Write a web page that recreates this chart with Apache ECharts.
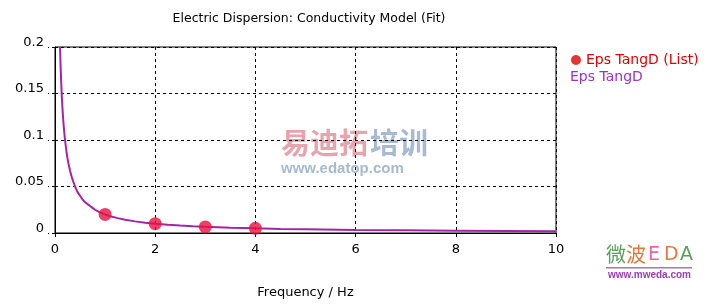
<!DOCTYPE html>
<html><head><meta charset="utf-8">
<script src="https://cdn.jsdelivr.net/npm/echarts@6/dist/echarts.min.js"></script>
<style>html,body{margin:0;padding:0;background:#fff}#c{width:714px;height:304px}</style>
</head><body><div id="c"></div>
<script>
const titleText = 'Electric Dispersion: Conductivity Model (Fit)';
const xAxisName = 'Frequency / Hz';
const listName = 'Eps TangD (List)';
const fitName = 'Eps TangD';
const listFreq = [1, 2, 3, 4];
const listVals = [0.0200, 0.0100, 0.0065, 0.0050];
const fitFreq = [0.1, 0.11, 0.12, 0.135, 0.15, 0.165, 0.18, 0.2, 0.225, 0.25, 0.275, 0.3, 0.33, 0.36, 0.4, 0.45, 0.5, 0.55, 0.6, 0.65, 0.7, 0.75, 0.8, 0.9, 1.0, 1.1, 1.25, 1.4, 1.6, 1.8, 2, 2.25, 2.5, 2.75, 3, 3.5, 4, 4.5, 5, 6, 7, 8, 9, 10];
const fitVals = [0.200, 0.182, 0.167, 0.148, 0.133, 0.121, 0.111, 0.100, 0.089, 0.080, 0.073, 0.067, 0.061, 0.056, 0.050, 0.044, 0.040, 0.036, 0.033, 0.031, 0.029, 0.027, 0.025, 0.022, 0.020, 0.018, 0.016, 0.0143, 0.0125, 0.0111, 0.0100, 0.0089, 0.0080, 0.0073, 0.0067, 0.0057, 0.0050, 0.0044, 0.0040, 0.0033, 0.0029, 0.0025, 0.0022, 0.0020];
const yTicks = [0, 0.05, 0.1, 0.15, 0.2];

const font = '"DejaVu Sans", Verdana, sans-serif';
const chart = echarts.init(document.getElementById('c'));
chart.setOption({
  animation: false,
  backgroundColor: '#fff',
  title: { text: titleText, left: 304, top: 7, textAlign: 'center',
    textStyle: { fontFamily: font, fontSize: 12.5, fontWeight: 'normal', color: '#000' } },
  grid: { left: 55, right: 158, top: 47, bottom: 70, show: true, borderColor: '#000', borderWidth: 1, backgroundColor: 'transparent' },
  legend: [
    { left: 566, top: 48, orient: 'vertical', itemWidth: 10, itemHeight: 10,
      data: [{ name: listName, icon: 'circle', itemStyle: { color: '#e00000' } }],
      textStyle: { fontFamily: font, fontSize: 14, color: '#e00000' }, selectedMode: false },
    { left: 560, top: 65, orient: 'vertical', itemWidth: 0, itemHeight: 0,
      data: [{ name: fitName, icon: 'none' }],
      textStyle: { fontFamily: font, fontSize: 14, color: '#9933cc' }, selectedMode: false }
  ],
  xAxis: {
    type: 'value', min: 0, max: 10, interval: 2,
    name: xAxisName, nameLocation: 'middle', nameGap: 53,
    nameTextStyle: { fontFamily: font, fontSize: 13, color: '#000' },
    axisLine: { lineStyle: { color: '#000', width: 1 } },
    axisTick: { show: true, length: 4, lineStyle: { color: '#000' } },
    axisLabel: { fontFamily: font, fontSize: 13, color: '#000', margin: 10 },
    splitLine: { show: true, lineStyle: { color: '#000', type: [3, 3], width: 1 } }
  },
  yAxis: {
    type: 'value', min: 0, max: 0.2, interval: 0.05,
    axisLine: { show: true, lineStyle: { color: '#000', width: 1 } },
    axisTick: { show: true, length: 7, lineStyle: { color: '#000', type: [3, 3] } },
    axisLabel: { fontFamily: font, fontSize: 13, color: '#000', margin: 11, verticalAlign: 'bottom', lineHeight: 9,
      formatter: v => yTicks.includes(+v.toFixed(2)) ? String(+v.toFixed(2)) : '' },
    splitLine: { show: true, lineStyle: { color: '#000', type: [3, 3], width: 1 } }
  },
  graphic: [
    { type: 'text', left: 281, top: 128, z: 0, style: { text: '易迪拓', font: 'bold 29px "Noto Sans CJK SC"', fill: '#e8a4ae' } },
    { type: 'text', left: 370, top: 128, z: 0, style: { text: '培训', font: 'bold 29px "Noto Sans CJK SC"', fill: '#a6bad2' } },
    { type: 'text', left: 281, top: 161, z: 0, style: { text: 'www.edatop.com', font: 'bold 15px "Liberation Sans", Arial, sans-serif', fill: '#a8bad0' } },
    { type: 'text', left: 606, top: 244, z: 0, style: { text: '微', font: '20px "Noto Sans CJK SC"', fill: '#5aa05a' } },
    { type: 'text', left: 626, top: 244, z: 0, style: { text: '波', font: '20px "Noto Sans CJK SC"', fill: '#e07840' } },
    { type: 'text', left: 648, top: 246, z: 0, style: { text: 'E', font: '19px "DejaVu Sans"', fill: '#e8689a' } },
    { type: 'text', left: 664, top: 246, z: 0, style: { text: 'D', font: '19px "DejaVu Sans"', fill: '#e87840' } },
    { type: 'text', left: 680, top: 246, z: 0, style: { text: 'A', font: '19px "DejaVu Sans"', fill: '#5aa05a' } },
    { type: 'rect', shape: { x: 606, y: 267, width: 86, height: 1.5 }, z: 0, style: { fill: '#b070c0' } },
    { type: 'text', left: 608, top: 270, z: 0, style: { text: 'www.mweda.com', font: 'bold 10px "Liberation Sans", Arial', fill: '#9a40b0' } }
  ],
  series: [
    { name: fitName, type: 'line', data: fitFreq.map((f, i) => [f, fitVals[i]]), showSymbol: false,
      symbol: 'none', smooth: false, lineStyle: { color: '#a424a8', width: 2 }, itemStyle: { color: '#a424a8' }, z: 2 },
    { name: listName, type: 'scatter', data: listFreq.map((f, i) => [f, listVals[i]]),
      symbol: 'circle', symbolSize: 13, itemStyle: { color: '#ea1040' }, z: 3 }
  ]
});
</script></body></html>
